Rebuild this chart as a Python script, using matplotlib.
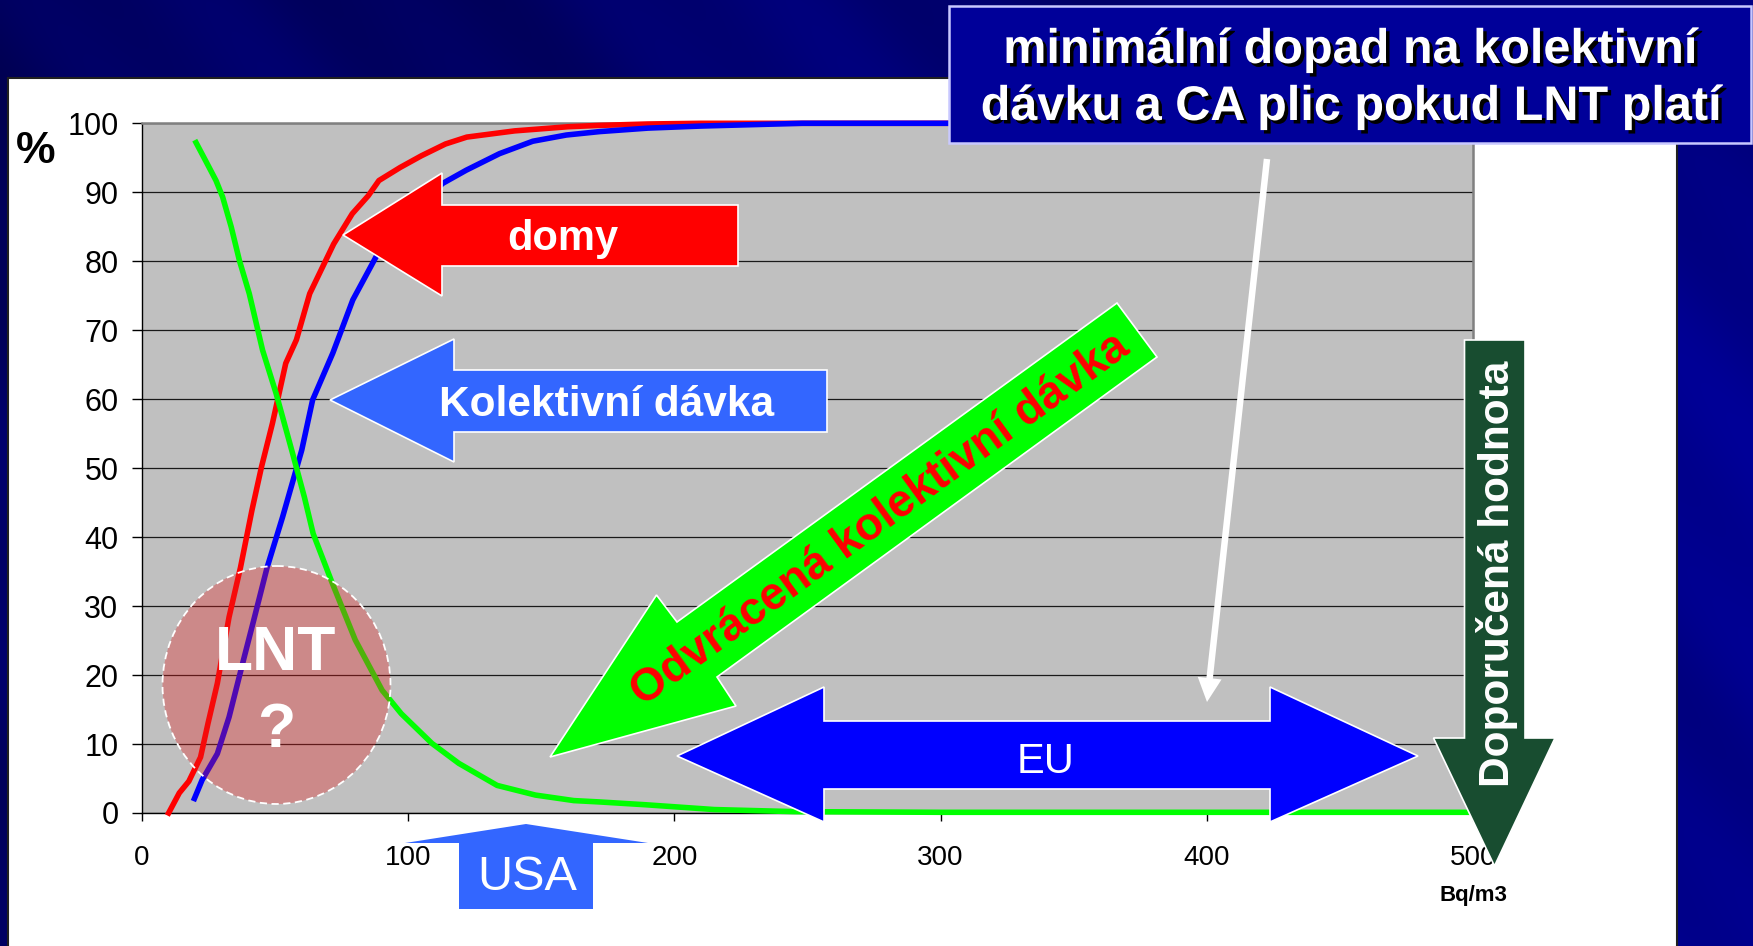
import numpy as np
import matplotlib
matplotlib.use("agg")
import matplotlib.pyplot as plt
from matplotlib import font_manager
from matplotlib.patches import Polygon, Ellipse, Rectangle, FancyArrow
import matplotlib.patheffects as pe

W, H = 1753, 946

# values: radon (Bq/m3) vs cumulative %
domy_x = [10, 14, 17.6, 22, 24.8, 28.3, 32.7, 37, 41.3, 44.9, 49, 54, 58, 63, 67, 72,
          79, 85, 89, 97, 105, 114, 122, 140, 160, 172, 190, 210, 500]
domy_y = [0, 2.9, 4.6, 8.1, 13, 18.8, 28.4, 35.6, 43.9, 50.2, 56.5, 65.2, 68.6, 75.3, 78.5, 82.5,
          86.9, 89.5, 91.7, 93.6, 95.3, 97.0, 98.0, 98.9, 99.5, 99.7, 99.9, 100, 100]

kolekt_x = [19.7, 22.6, 28.3, 32.7, 38.4, 42, 47, 52.8, 57.1, 60, 64.1, 71.7, 79.2, 88, 95,
            105, 113, 121.8, 134.3, 146.8, 159.4, 172, 190, 210, 248, 500]
kolekt_y = [2.1, 4.8, 8.6, 13.9, 22.6, 28, 35.6, 42.9, 48.7, 52.6, 59.9, 66.7, 74.4, 80.7, 85,
            88.5, 91.3, 93.2, 95.6, 97.4, 98.3, 98.8, 99.3, 99.6, 100, 100]

odvr_x = [20.3, 24, 27.8, 30.3, 33.5, 36.6, 40.3, 45.3, 50.4, 56.6, 61, 64.3, 71.5, 80.1, 90.2,
          97.4, 108.9, 119, 133.4, 147.8, 162.2, 172, 189, 215, 245, 300, 400, 500]
odvr_y = [97.2, 94.5, 91.7, 89.3, 85, 80.1, 75.3, 67.1, 60.8, 52.1, 45.8, 40.5, 33.3, 25.1, 17.8,
          14.4, 10.1, 7.2, 4.0, 2.6, 1.8, 1.6, 1.2, 0.5, 0.2, 0.1, 0.1, 0.1]

x_ticks = [0, 100, 200, 300, 400, 500]
y_ticks = [0, 10, 20, 30, 40, 50, 60, 70, 80, 90, 100]

names = {f.name for f in font_manager.fontManager.ttflist}
narrow = "Liberation Sans Narrow" in names

plt.rcParams["font.family"] = ["Liberation Sans", "DejaVu Sans"]

fig = plt.figure(figsize=(W / 100, H / 100), dpi=100)

# slide background (dark blue with diagonal streaks) + white panel
bg = fig.add_axes([0, 0, 1, 1], zorder=-10)
gy, gx = np.mgrid[0:H:3, 0:W:3].astype(float)
u = gx - 0.85 * gy
blue = 0.36 + 0.16 * (gx / W) + 0.05 * (gy / H) + 0.035 * np.sin(u / 95.0) + 0.02 * np.sin(u / 31.0 + 1.0)
img = np.zeros(gx.shape + (3,))
img[..., 2] = np.clip(blue, 0, 1)
bg.imshow(img, extent=[0, W, H, 0], aspect="auto", interpolation="bilinear")
bg.add_patch(Rectangle((8, 78), 1669, 880, facecolor="white", edgecolor="#202020", lw=1.5))
bg.set_xlim(0, W)
bg.set_ylim(H, 0)
bg.axis("off")

# chart
ax = fig.add_axes([142 / W, 1 - 813 / H, (1473 - 142) / W, (813 - 123.3) / H], zorder=1)
ax.set_facecolor("#C0C0C0")
ax.set_xlim(0, 500)
ax.set_ylim(0, 100)
ax.set_xticks(x_ticks)
ax.set_yticks(y_ticks)
ax.grid(axis="y", color="#1a1a1a", lw=0.9)
ax.set_axisbelow(True)
for s in ["top", "right"]:
    ax.spines[s].set_color("#808080")
    ax.spines[s].set_linewidth(1.8)
for s in ["left", "bottom"]:
    ax.spines[s].set_color("black")
    ax.spines[s].set_linewidth(1.0)
ax.tick_params(axis="y", direction="out", length=7, width=1, pad=10, labelsize=24 if narrow else 22)
ax.tick_params(axis="x", direction="out", length=6, width=1, pad=17, labelsize=20)
if narrow:
    for lab in ax.get_yticklabels():
        lab.set_fontfamily("Liberation Sans Narrow")

ax.plot(domy_x, domy_y, color="#FF0000", lw=4.0, clip_on=False, zorder=3)
ax.plot(kolekt_x, kolekt_y, color="#0000FF", lw=4.0, clip_on=False, zorder=3)
ax.plot(odvr_x, odvr_y, color="#00FF00", lw=4.0, clip_on=False, zorder=3)

# overlay in slide pixel coordinates
ov = fig.add_axes([0, 0, 1, 1], zorder=5)
ov.set_xlim(0, W)
ov.set_ylim(H, 0)
ov.axis("off")
ov.patch.set_alpha(0)

ov.text(36, 163, "%", fontsize=32, fontweight="bold", ha="center", va="baseline", color="black")
ov.text(1473, 901, "Bq/m3", fontsize=16, fontweight="bold", ha="center", va="baseline", color="black")

# LNT circle
ov.add_patch(Ellipse((276.5, 685), 228, 238, facecolor=(0.9, 0.12, 0.12, 0.34),
                     edgecolor="white", lw=1.3, ls=(0, (4, 2.5))))
ov.text(276, 670, "LNT", fontsize=45, fontweight="bold", color="white", ha="center", va="baseline")
ov.text(276, 747, "?", fontsize=45, fontweight="bold", color="white", ha="center", va="baseline")

# block arrows
domy_arrow = [(343, 235), (442, 173), (442, 205), (738, 205), (738, 266), (442, 266), (442, 296)]
ov.add_patch(Polygon(domy_arrow, closed=True, facecolor="#FF0000", edgecolor="white", lw=1.2))
ov.text(563, 250, "domy", fontsize=30, fontweight="bold", color="white", ha="center", va="baseline")

kol_arrow = [(330, 400), (454, 339), (454, 370), (827, 370), (827, 432), (454, 432), (454, 462)]
ov.add_patch(Polygon(kol_arrow, closed=True, facecolor="#3366FF", edgecolor="white", lw=1.2))
ov.text(607, 416, "Kolektivní dávka", fontsize=30.5, fontweight="bold", color="white", ha="center", va="baseline")

green_arrow = [(550, 757), (656.5, 595), (677, 622), (1117, 303), (1157, 357), (717, 677), (736, 706)]
ov.add_patch(Polygon(green_arrow, closed=True, facecolor="#00FF00", edgecolor="white", lw=1.2))
ov.text(880, 520, "Odvrácená kolektivní dávka", fontsize=33, fontweight="bold", color="#FF0000",
        ha="center", va="center", rotation=36, rotation_mode="anchor")

eu_arrow = [(677, 756), (824, 687), (824, 721), (1270, 721), (1270, 687), (1418, 756),
            (1270, 822), (1270, 789), (824, 789), (824, 822)]
ov.add_patch(Polygon(eu_arrow, closed=True, facecolor="#0000FF", edgecolor="white", lw=1.2))
ov.text(1046, 773, "EU", fontsize=30, color="white", ha="center", va="baseline")

usa_arrow = [(526, 824), (648, 843), (593, 843), (593, 909), (459, 909), (459, 843), (405, 843)]
ov.add_patch(Polygon(usa_arrow, closed=True, facecolor="#3366FF", edgecolor="none"))
ov.text(527, 890, "USA", fontsize=35, color="white", ha="center", va="baseline")

dop_arrow = [(1464.5, 340), (1525, 340), (1525, 738), (1555, 738), (1494.5, 866), (1433.5, 738), (1464.5, 738)]
ov.add_patch(Polygon(dop_arrow, closed=True, facecolor="#184D30", edgecolor="white", lw=1.2))
ov.text(1497, 574, "Doporučená hodnota", fontsize=30.5, fontweight="bold", color="white",
        ha="center", va="center", rotation=90)

# pointer from the title box
ov.add_patch(FancyArrow(1267, 159, -60, 543, width=6.5, head_width=24, head_length=24,
                        length_includes_head=True, facecolor="white", edgecolor="none"))

# title box
ov.add_patch(Rectangle((949, 6), 802, 137, facecolor="#000099", edgecolor="#C8C8FF", lw=1.8))
shadow = [pe.withSimplePatchShadow(offset=(2.5, -2.5), shadow_rgbFace="black", alpha=1.0)]
ov.text(1350, 63, "minimální dopad na kolektivní", fontsize=35, fontweight="bold", color="white",
        ha="center", va="baseline", path_effects=shadow)
ov.text(1351, 120, "dávku a CA plic pokud LNT platí", fontsize=35, fontweight="bold", color="white",
        ha="center", va="baseline", path_effects=shadow)

fig.savefig("out.png", dpi=100)
